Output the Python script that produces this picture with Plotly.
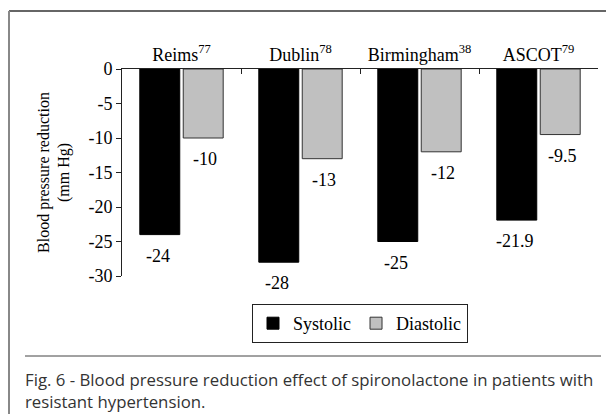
import plotly.graph_objects as go

# data
studies = ["Reims<sup>77</sup>", "Dublin<sup>78</sup>", "Birmingham<sup>38</sup>", "ASCOT<sup>79</sup>"]
systolic = [-24, -28, -25, -21.9]
diastolic = [-10, -13, -12, -9.5]
y_ticks = [0, -5, -10, -15, -20, -25, -30]
y_ticktext = ["0", "-5", "-10", "-15", "-20", "-25", "-30"]

SERIF = "Liberation Serif"
CAPTION = ("Fig. 6 - Blood pressure reduction effect of spironolactone in patients with<br>"
           "resistant hypertension.")

# plot area in pixels: left 122, right 598, top 69, bottom 276
L, R, T, B = 122, 598, 69, 276


def px_x(p):
    return (p - L) / (R - L)


def px_y(p):
    return (B - p) / (B - T)


fig = go.Figure()
fig.add_trace(go.Bar(
    name="Systolic", x=studies, y=systolic,
    marker=dict(color="#000000", line=dict(color="#000000", width=1)),
))
fig.add_trace(go.Bar(
    name="Diastolic", x=studies, y=diastolic,
    marker=dict(color="#c0c0c0", line=dict(color="#333333", width=1)),
))

# value labels below the bar ends
for vals, shift in ((systolic, -23.5), (diastolic, 23.5)):
    for s, v in zip(studies, vals):
        fig.add_annotation(
            x=s, y=v, text=f"{v:g}", showarrow=False,
            xshift=shift, yshift=-21, yanchor="middle",
            font=dict(family=SERIF, size=18, color="#000000"),
        )

# caption
fig.add_annotation(
    xref="paper", yref="paper", x=px_x(23), y=px_y(366),
    xanchor="left", yanchor="top", align="left", showarrow=False,
    text=CAPTION, font=dict(family="Open Sans", size=16.8, color="#333333"),
)

# frame lines and caption separator
fig.add_shape(type="line", xref="paper", yref="paper",
              x0=px_x(9), x1=px_x(606), y0=px_y(11), y1=px_y(11),
              line=dict(color="#333333", width=1.5))
fig.add_shape(type="line", xref="paper", yref="paper",
              x0=px_x(9), x1=px_x(9), y0=px_y(11), y1=px_y(414),
              line=dict(color="#888888", width=2))
fig.add_shape(type="line", xref="paper", yref="paper",
              x0=px_x(25), x1=px_x(601), y0=px_y(356), y1=px_y(356),
              line=dict(color="#444444", width=1))

fig.update_layout(
    width=606, height=414,
    margin=dict(l=L, r=606 - R, t=T, b=414 - B),
    paper_bgcolor="white", plot_bgcolor="white",
    barmode="group", bargap=0.27, bargroupgap=0.08,
    font=dict(family=SERIF, size=18, color="#000000"),
    showlegend=True,
    legend=dict(
        orientation="h", x=0.5, xanchor="center", y=px_y(304), yanchor="top",
        bordercolor="#222222", borderwidth=1, bgcolor="white",
        font=dict(family=SERIF, size=18), itemwidth=30,
        tracegroupgap=0,
    ),
    xaxis=dict(
        side="top", showline=True, linecolor="#222222", linewidth=1,
        ticks="inside", tickson="boundaries", ticklen=5, tickcolor="#222222",
        tickfont=dict(family=SERIF, size=18), showgrid=False, zeroline=False,
        automargin=False,
    ),
    yaxis=dict(
        range=[-30, 0], tickvals=y_ticks, ticktext=y_ticktext,
        showline=True, linecolor="#222222", linewidth=1,
        ticks="outside", ticklen=5, tickcolor="#222222",
        tickfont=dict(family=SERIF, size=18), showgrid=False, zeroline=False,
        automargin=False,
        title=dict(text="Blood pressure reduction<br>(mm Hg)",
                   font=dict(family=SERIF, size=16), standoff=14),
    ),
)

# the page's default body margin would shift the figure by 8px
fig.write_html("out.html", config={"displayModeBar": False},
               post_script="document.body.style.margin='0';")
